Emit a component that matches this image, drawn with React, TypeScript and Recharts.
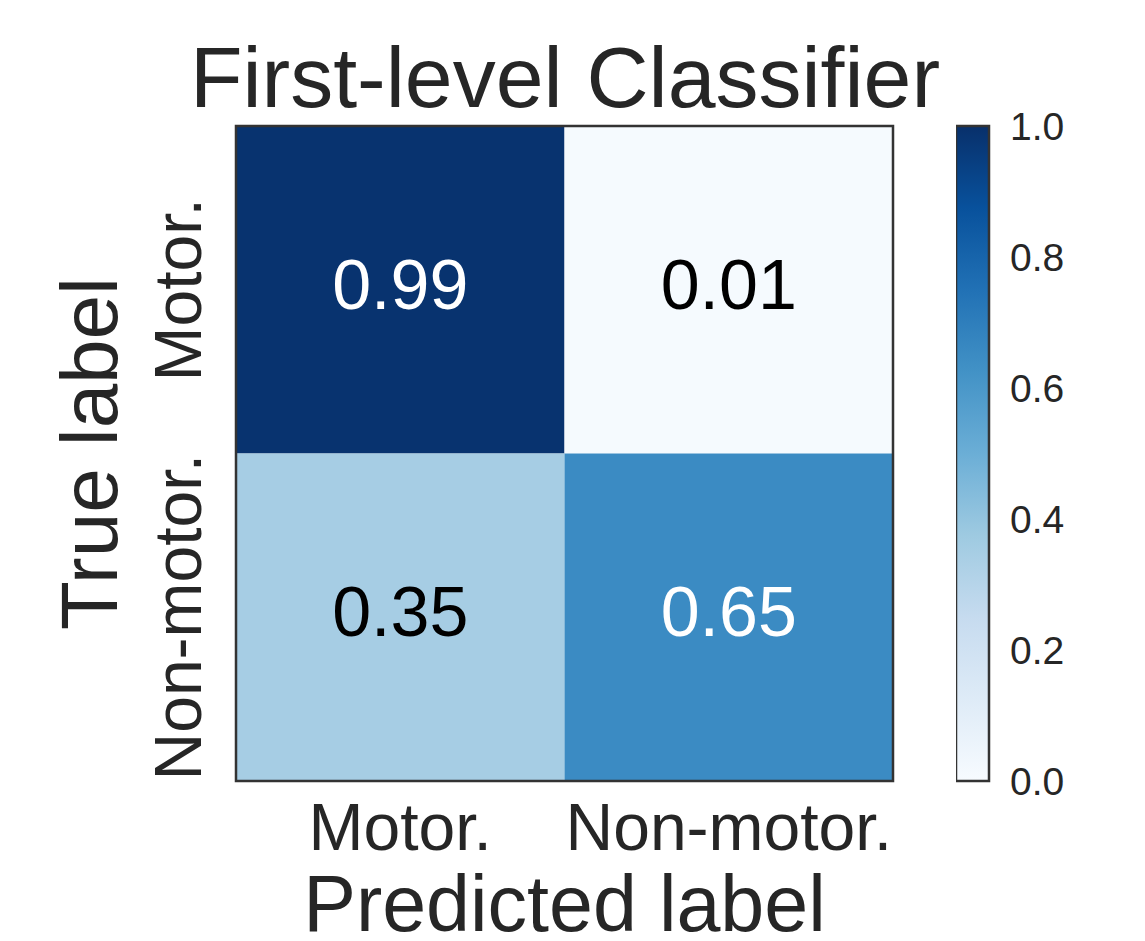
import React from "react";
import {
	BarChart,
	Bar,
	ScatterChart,
	Scatter,
	ReferenceArea,
	XAxis,
	YAxis,
} from "recharts";

// confusion matrix, rows = true label, columns = predicted label
const categories = ["Motor.", "Non-motor."];
const rowMotor = [0.99, 0.01];
const rowNonMotor = [0.35, 0.65];
const colorbarTicks = [0, 0.2, 0.4, 0.6, 0.8, 1.0];

// matplotlib "Blues"
const blues = [
	"#f7fbff",
	"#deebf7",
	"#c6dbef",
	"#9ecae1",
	"#6baed6",
	"#4292c6",
	"#2171b5",
	"#08519c",
	"#08306b",
];

const FONT = "'Liberation Sans', Arial, sans-serif";
const INK = "#262626";
const FRAME = "#333333";

const hexToRgb = (h: string) => [
	parseInt(h.slice(1, 3), 16),
	parseInt(h.slice(3, 5), 16),
	parseInt(h.slice(5, 7), 16),
];

const bluesAt = (v: number) => {
	const t = Math.max(0, Math.min(1, v)) * (blues.length - 1);
	const i = Math.min(Math.floor(t), blues.length - 2);
	const f = t - i;
	const a = hexToRgb(blues[i]);
	const b = hexToRgb(blues[i + 1]);
	const c = a.map((x, k) => Math.round(x + (b[k] - x) * f));
	return `rgb(${c[0]},${c[1]},${c[2]})`;
};

const matrix = [rowMotor, rowNonMotor];
const cells = matrix.flatMap((row, i) =>
	row.map((value, j) => ({ row: i, col: j, x: j + 0.5, y: i + 0.5, value }))
);

const XTick = (props: any) => {
	const { x, y, payload } = props;
	return (
		<text
			x={x}
			y={y + 61}
			textAnchor="middle"
			fontSize={66}
			fontFamily={FONT}
			fill={INK}
		>
			{categories[Math.floor(payload.value)]}
		</text>
	);
};

const YTick = (props: any) => {
	const { x, y, payload } = props;
	const bx = x - 27;
	return (
		<text
			x={bx}
			y={y}
			transform={`rotate(-90, ${bx}, ${y})`}
			textAnchor="middle"
			fontSize={66}
			fontFamily={FONT}
			fill={INK}
		>
			{categories[Math.floor(payload.value)]}
		</text>
	);
};

const CellText = (props: any) => {
	const { cx, cy, payload } = props;
	return (
		<text
			x={cx}
			y={cy + 19}
			textAnchor="middle"
			fontSize={70}
			fontFamily={FONT}
			fill={payload.value > 0.5 ? "#ffffff" : "#000000"}
		>
			{payload.value.toFixed(2)}
		</text>
	);
};

const ColorbarTick = (props: any) => {
	const { x, y, payload } = props;
	return (
		<text
			x={x + 13}
			y={y + 14}
			textAnchor="start"
			fontSize={39}
			fontFamily={FONT}
			fill={INK}
		>
			{Number(payload.value).toFixed(1)}
		</text>
	);
};

export default function App() {
	return (
		<div
			style={{
				position: "absolute",
				left: 0,
				top: 0,
				width: 1145,
				height: 941,
				background: "#ffffff",
			}}
		>
			<div
				style={{
					position: "absolute",
					left: 0,
					top: 34,
					width: 1130,
					textAlign: "center",
					fontFamily: FONT,
					fontSize: 86,
					lineHeight: "86px",
					color: INK,
					whiteSpace: "nowrap",
				}}
			>
				First-level Classifier
			</div>

			<div style={{ position: "absolute", left: 0, top: 0 }}>
				<ScatterChart
					width={940}
					height={941}
					margin={{ top: 126, right: 47, bottom: 0, left: 0 }}
				>
					<XAxis
						type="number"
						dataKey="x"
						domain={[0, 2]}
						ticks={[0.5, 1.5]}
						height={160}
						axisLine={false}
						tickLine={false}
						tick={XTick}
						label={{
							value: "Predicted label",
							position: "insideBottom",
							offset: 10,
							fontSize: 79,
							fontFamily: FONT,
							fill: INK,
						}}
					/>
					<YAxis
						type="number"
						dataKey="y"
						domain={[0, 2]}
						ticks={[0.5, 1.5]}
						reversed
						width={236}
						axisLine={false}
						tickLine={false}
						tick={YTick}
						label={{
							value: "True label",
							angle: -90,
							position: "insideLeft",
							offset: 89,
							fontSize: 80,
							fontFamily: FONT,
							fill: INK,
							style: { textAnchor: "middle" },
						}}
					/>
					{cells.map((c) => (
						<ReferenceArea
							key={`${c.row}-${c.col}`}
							x1={c.col}
							x2={c.col + 1}
							y1={c.row}
							y2={c.row + 1}
							fill={bluesAt(c.value)}
							fillOpacity={1}
							stroke="none"
						/>
					))}
					<ReferenceArea
						x1={0}
						x2={2}
						y1={0}
						y2={2}
						fill="none"
						stroke={FRAME}
						strokeWidth={2.5}
					/>
					<Scatter data={cells} shape={CellText} isAnimationActive={false} />
				</ScatterChart>
			</div>

			<div style={{ position: "absolute", left: 956, top: 0 }}>
				<BarChart
					width={190}
					height={941}
					data={[{ name: "cbar", v: 1 }]}
					margin={{ top: 126, right: 0, bottom: 160, left: 0 }}
					barCategoryGap={0}
				>
					<defs>
						<linearGradient id="bluesGrad" x1="0" y1="1" x2="0" y2="0">
							{blues.map((c, i) => (
								<stop key={c} offset={i / (blues.length - 1)} stopColor={c} />
							))}
						</linearGradient>
					</defs>
					<XAxis dataKey="name" hide />
					<YAxis
						orientation="right"
						type="number"
						domain={[0, 1]}
						ticks={colorbarTicks}
						width={157}
						axisLine={false}
						tickLine={false}
						tick={ColorbarTick}
					/>
					<Bar
						dataKey="v"
						fill="url(#bluesGrad)"
						stroke={FRAME}
						strokeWidth={2.5}
						isAnimationActive={false}
					/>
				</BarChart>
			</div>
		</div>
	);
}
